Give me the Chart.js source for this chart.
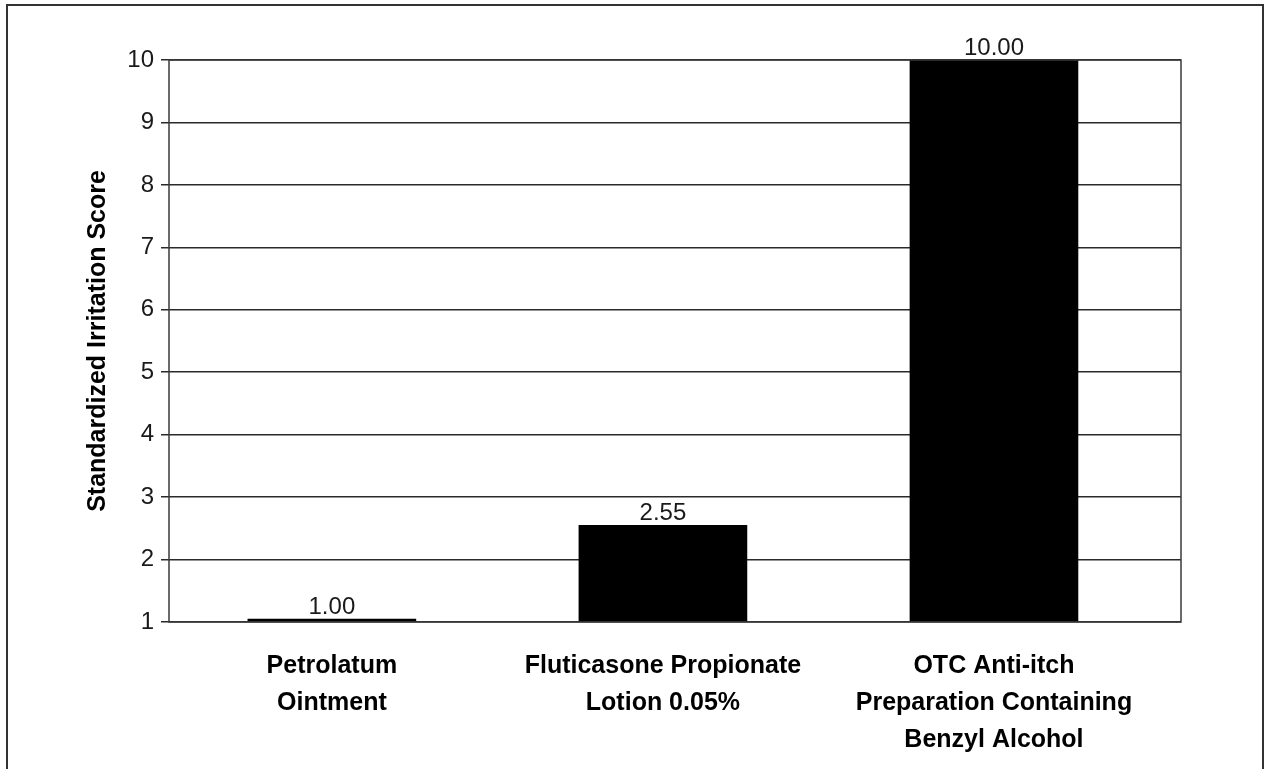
<!DOCTYPE html>
<html>
<head>
<meta charset="utf-8">
<title>Standardized Irritation Score</title>
<script src="https://cdn.jsdelivr.net/npm/chart.js@4/dist/chart.umd.min.js"></script>
<style>
  html, body { margin: 0; padding: 0; background: #fff; }
  #wrap { position: relative; width: 1265px; height: 769px; }
</style>
</head>
<body>
<div id="wrap"><canvas id="chart" width="1265" height="769"></canvas></div>
<script>
// Products tested (one entry per bar, label lines as shown under the axis)
const categoryLabels = [
  ['Petrolatum', 'Ointment'],
  ['Fluticasone Propionate', 'Lotion 0.05%'],
  ['OTC Anti-itch', 'Preparation Containing', 'Benzyl Alcohol']
];
// Standardized irritation score per product
const scores = [1.00, 2.55, 10.00];
// Value axis range and step
const yMin = 1;
const yMax = 10;
const yStep = 1;

const FONT = "'Liberation Sans', Arial, Helvetica, sans-serif";

// Frame around the whole figure and around the plot area
const framePlugin = {
  id: 'frames',
  afterDraw(chart) {
    const { ctx, chartArea: a } = chart;
    ctx.save();
    ctx.strokeStyle = '#3a3a3a';
    ctx.lineWidth = 1.5;
    ctx.strokeRect(a.left, a.top, a.right - a.left, a.bottom - a.top);
    ctx.lineWidth = 2;
    ctx.strokeStyle = '#333';
    ctx.strokeRect(7, 5, chart.width - 9, chart.height + 20);
    ctx.restore();
  }
};

// Value printed above every bar
const valueLabels = {
  id: 'valueLabels',
  afterDatasetsDraw(chart) {
    const { ctx } = chart;
    const meta = chart.getDatasetMeta(0);
    ctx.save();
    ctx.font = `300 24px ${FONT}`;
    ctx.fillStyle = '#1a1a1a';
    ctx.textAlign = 'center';
    ctx.textBaseline = 'alphabetic';
    meta.data.forEach((bar, i) => {
      ctx.fillText(scores[i].toFixed(2), bar.x, Math.min(bar.y, bar.base) - 5);
    });
    ctx.restore();
  }
};

new Chart(document.getElementById('chart'), {
  type: 'bar',
  data: {
    datasets: [{
      data: scores.map((v, i) => ({ x: i, y: v })),
      base: yMin,
      backgroundColor: '#000',
      borderWidth: 0,
      barThickness: 168,
      minBarLength: 3
    }]
  },
  options: {
    responsive: false,
    animation: false,
    events: [],
    layout: { padding: { left: 0, top: 60, right: 84, bottom: 0 } },
    plugins: {
      legend: { display: false },
      tooltip: { enabled: false }
    },
    scales: {
      x: {
        type: 'linear',
        offset: false,
        min: -0.492,
        max: 2.565,
        grid: { display: false },
        border: { display: false },
        afterFit(scale) { scale.height = 147; },
        ticks: {
          stepSize: 1,
          includeBounds: false,
          autoSkip: false,
          maxRotation: 0,
          minRotation: 0,
          padding: 18,
          color: '#000',
          font: { family: FONT, size: 25, weight: 'bold', lineHeight: 1.48 },
          callback: (value) => categoryLabels[value] || ''
        }
      },
      y: {
        min: yMin,
        max: yMax,
        afterFit(scale) { scale.width = 169; },
        grid: {
          color: '#2a2a2a',
          lineWidth: 1.5,
          drawTicks: true,
          tickLength: 8
        },
        border: { display: false },
        ticks: {
          stepSize: yStep,
          padding: 7,
          color: '#1a1a1a',
          font: { family: FONT, size: 24, weight: '300' }
        },
        title: {
          display: true,
          text: 'Standardized Irritation Score',
          color: '#000',
          font: { family: FONT, size: 25, weight: 'bold', lineHeight: 1.2 },
          padding: { top: 83, bottom: 0 }
        }
      }
    }
  },
  plugins: [framePlugin, valueLabels]
});
</script>
</body>
</html>
